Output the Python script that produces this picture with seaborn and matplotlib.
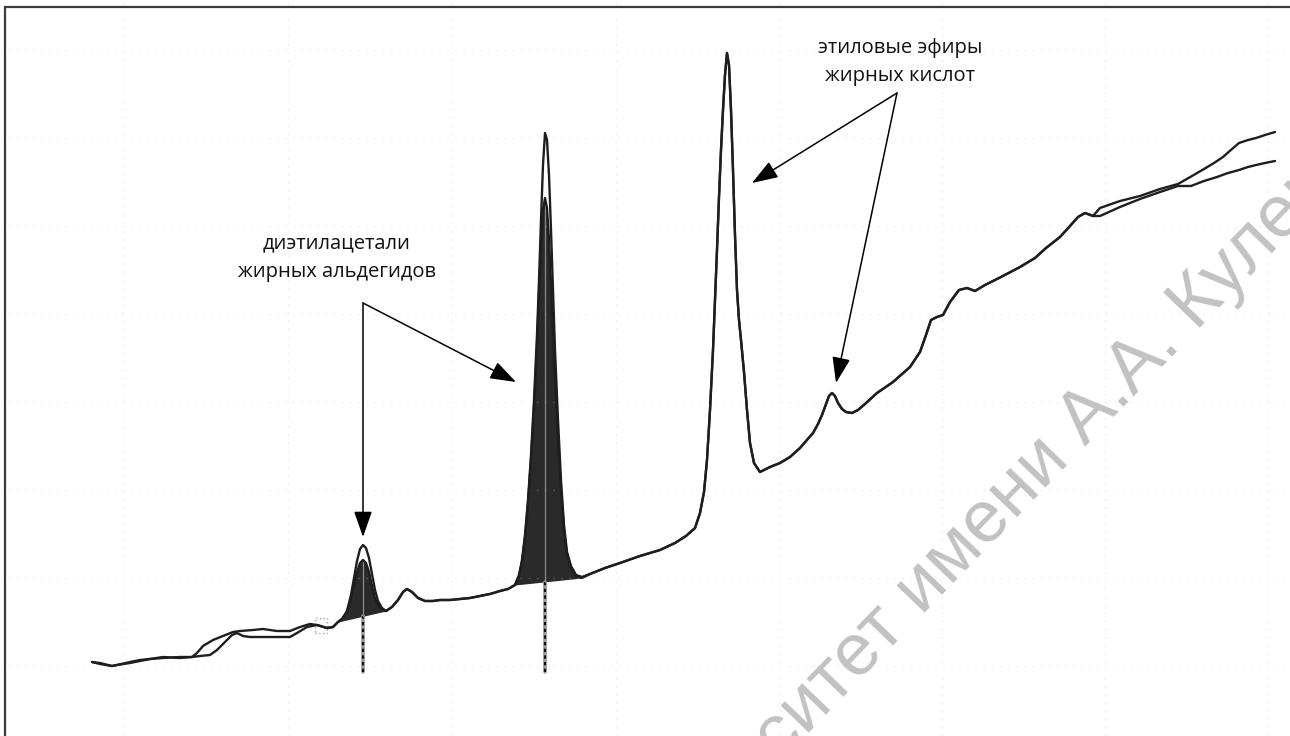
import numpy as np
import matplotlib
matplotlib.use("Agg")
import matplotlib.pyplot as plt
from matplotlib.lines import Line2D
from matplotlib.patches import Rectangle
import seaborn as sns

sns.set_theme(style="white")
plt.rcParams['font.family'] = ['Open Sans', 'DejaVu Sans']

# --- chromatogram data (scan number vs detector signal, arbitrary units) ---
# start of run, two runs drift slightly apart
start_scan_a = [92, 100, 112, 117, 130, 140, 150, 163, 180, 192, 197, 203, 213, 223, 233,
                240, 253, 263, 277, 290, 300, 310, 317, 327, 333, 338]
start_sig_a = [74, 73, 70, 71, 74, 76, 77, 79, 78, 79, 83, 90, 96, 100, 104,
               105, 106, 107, 105, 105, 109, 112, 111, 108, 109, 114]
start_scan_b = [92, 100, 112, 117, 130, 140, 150, 163, 180, 192, 200, 210, 217, 225, 232,
                237, 243, 250, 270, 290, 297, 307, 317, 327, 333, 338]
start_sig_b = [74, 72, 70, 71, 73, 75, 77, 78, 79, 79, 80, 81, 86, 94, 101,
               103, 100, 99, 99, 99, 103, 109, 111, 108, 109, 114]

# first fatty aldehyde diethyl acetal peak
small_scan = [342, 347, 351, 354, 357, 360, 363, 366, 369, 372, 375, 378, 382, 386]
small_sig_a = [117, 125, 141, 158, 175, 187, 191, 188, 178, 162, 146, 135, 128, 125]
small_sig_b = [117, 124, 136, 150, 164, 173, 176, 173, 164, 150, 138, 131, 127, 125]

mid_scan = [392, 398, 403, 407, 412, 418, 425, 433, 440, 450, 460, 470, 480, 490, 500, 508, 515]
mid_sig = [129, 136, 144, 147, 144, 138, 135, 135, 136, 136, 137, 138, 140, 142, 145, 147, 151]

# second acetal peak
big_scan = [519, 522, 525, 528, 531, 534, 537, 539, 541, 543, 545, 547, 549, 551, 553,
            555, 558, 561, 564, 567, 571, 576, 582]
big_sig_a = [161, 176, 201, 236, 281, 336, 401, 456, 516, 571, 603, 596, 561, 506, 446,
             386, 316, 256, 211, 184, 170, 161, 159]
big_sig_b = [160, 174, 198, 233, 276, 328, 391, 441, 491, 526, 538, 528, 496, 451, 401,
             356, 298, 246, 206, 181, 168, 160, 158]

# fatty acid ethyl esters and rising baseline (both runs coincide)
tail_scan = [590, 605, 620, 640, 660, 675, 686, 695, 700, 704, 707, 710, 713, 715, 717,
             719, 721, 723, 725, 727, 729, 731, 733, 735, 737, 739, 741, 744, 747, 750,
             754, 760, 770, 780, 790, 800, 807, 813, 818, 822, 826, 829, 832, 835, 838,
             842, 846, 852, 858, 865, 877, 893, 910, 920, 926, 931, 937, 943, 950, 959,
             967, 975, 985, 1001, 1020, 1035, 1046, 1060, 1070, 1078, 1085, 1093]
tail_sig = [162, 168, 173, 180, 186, 193, 200, 208, 223, 244, 276, 326, 386, 436, 486,
            539, 586, 626, 661, 683, 671, 626, 566, 501, 446, 416, 396, 364, 326, 293,
            273, 264, 269, 273, 279, 288, 296, 303, 312, 321, 332, 340, 343, 340, 333,
            327, 324, 323, 326, 332, 343, 354, 369, 384, 401, 416, 419, 421, 434, 446,
            448, 445, 451, 459, 469, 478, 488, 499, 510, 519, 523, 520]

end_scan_a = [1100, 1120, 1140, 1160, 1178, 1192, 1204, 1214, 1223, 1232, 1239, 1248, 1256, 1265, 1275]
end_sig_a = [528, 535, 540, 547, 552, 560, 567, 573, 579, 587, 593, 596, 598, 601, 604]
end_scan_b = [1100, 1120, 1140, 1160, 1178, 1191, 1204, 1217, 1228, 1239, 1248, 1256, 1265, 1275]
end_sig_b = [520, 529, 537, 544, 550, 550, 555, 559, 563, 566, 569, 571, 573, 575]

# integrated peaks: start/end scan and baseline signal
peak_scan_bounds = [(338, 386), (515, 582)]
peak_sig_bounds = [(114, 125), (151, 158)]
peak_marker_scan = [363, 545]
peak_marker_apex = [176, 538]
marker_bottom = 64

box_scan = [315, 327]
box_sig = [103, 118]

grid_scan = [123, 288, 452, 616, 780, 942, 1105, 1268]
grid_sig = [70, 158, 246, 334, 422, 510, 598, 686]

label_left = "диэтилацетали\nжирных альдегидов"
label_right = "этиловые эфиры\nжирных кислот"
watermark = "университет имени А.А. Кулешова"

# assemble both runs
scan_a = np.array(start_scan_a + small_scan + mid_scan + big_scan + tail_scan + end_scan_a)
sig_a = np.array(start_sig_a + small_sig_a + mid_sig + big_sig_a + tail_sig + end_sig_a)
scan_b = np.array(start_scan_b + small_scan + mid_scan + big_scan + tail_scan + end_scan_b)
sig_b = np.array(start_sig_b + small_sig_b + mid_sig + big_sig_b + tail_sig + end_sig_b)

fig = plt.figure(figsize=(12.9, 7.36), dpi=100)
ax = fig.add_axes([0, 0, 1, 1])
ax.set_xlim(0, 1290)
ax.set_ylim(0, 736)
for s in ax.spines.values():
    s.set_visible(False)

# faint dotted grid of the instrument screen
ax.set_xticks(grid_scan)
ax.set_yticks(grid_sig)
ax.tick_params(length=0, labelbottom=False, labelleft=False)
ax.grid(True, color='#c8c8c8', alpha=0.28, linestyle=(0, (1.5, 5)), linewidth=0.9)
ax.set_axisbelow(False)

# watermark
fig.text(0.783, 0.325, watermark, rotation=46, rotation_mode='anchor',
         ha='center', va='center', fontsize=53, color='#c2c2c2',
         family=['Liberation Sans', 'DejaVu Sans'], zorder=0)

# filled integrated peaks
for (x0, x1), (y0, y1) in zip(peak_scan_bounds, peak_sig_bounds):
    m = (scan_b >= x0) & (scan_b <= x1)
    base = np.interp(scan_b[m], [x0, x1], [y0, y1])
    ax.fill_between(scan_b[m], base, sig_b[m], color='#2a2a2a', lw=0, zorder=2)

# peak markers (retention time lines)
for xm, ya, (x0, x1), (y0, y1) in zip(peak_marker_scan, peak_marker_apex,
                                      peak_scan_bounds, peak_sig_bounds):
    yb = np.interp(xm, [x0, x1], [y0, y1])
    ax.plot([xm, xm], [marker_bottom, yb], color='#9a9a9a', lw=2.6, zorder=2.5)
    ax.plot([xm, xm], [marker_bottom, yb], color='#111111', lw=1.6,
            linestyle=(0, (1.5, 1.5)), zorder=2.6)
    ax.plot([xm, xm], [yb, ya], color='#8a8a8a', lw=0.9, zorder=2.6)

ax.add_patch(Rectangle((box_scan[0], box_sig[0]), box_scan[1] - box_scan[0],
                       box_sig[1] - box_sig[0], fill=False, ec='#a8a8a8',
                       ls=':', lw=1.0, zorder=2))

# the two chromatograms
sns.lineplot(x=scan_b, y=sig_b, ax=ax, color='#1e1e1e', linewidth=1.7,
             estimator=None, sort=False, zorder=3)
sns.lineplot(x=scan_a, y=sig_a, ax=ax, color='#1e1e1e', linewidth=1.7,
             estimator=None, sort=False, zorder=3)

# annotations
arrow_kw = dict(arrowstyle='-|>,head_length=0.8,head_width=0.28', color='black',
                lw=1.1, mutation_scale=20, shrinkA=0, shrinkB=0)
ax.text(337, 478, label_left, ha='center', va='center', fontsize=14.5,
        linespacing=1.55, color='#111111')
for tip in [(363, 199), (516, 354)]:
    ax.annotate('', xy=tip, xytext=(363, 433), arrowprops=arrow_kw, zorder=4)

ax.text(900, 674, label_right, ha='center', va='center', fontsize=14.5,
        linespacing=1.55, color='#111111')
for tip in [(752, 553), (836, 353)]:
    ax.annotate('', xy=tip, xytext=(897, 643), arrowprops=arrow_kw, zorder=4)

# outer frame (left and top edges visible)
fig.add_artist(Line2D([4.5 / 1290, 4.5 / 1290], [0, 1 - 7 / 736], transform=fig.transFigure,
                      color='#3a3a3a', lw=1.6))
fig.add_artist(Line2D([4.5 / 1290, 1], [1 - 7 / 736, 1 - 7 / 736], transform=fig.transFigure,
                      color='#3a3a3a', lw=1.6))

fig.savefig('out.png', dpi=100)
